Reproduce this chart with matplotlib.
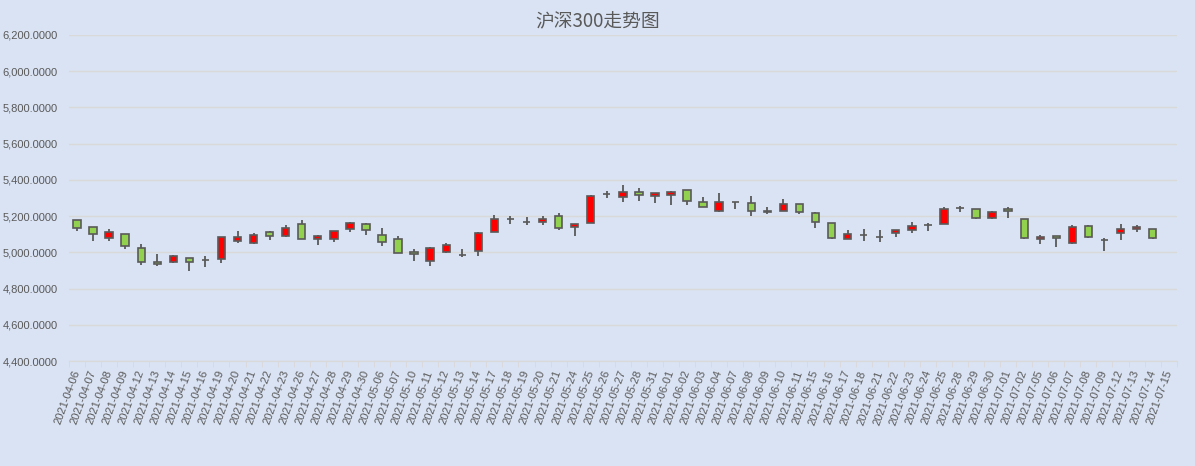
import numpy as np
import matplotlib.pyplot as plt
from matplotlib.ticker import FuncFormatter

plt.rcParams['font.family'] = ['Noto Sans CJK SC', 'DejaVu Sans']

# trading days shown on the category axis
dates = ['2021-04-06', '2021-04-07', '2021-04-08', '2021-04-09', '2021-04-12',
         '2021-04-13', '2021-04-14', '2021-04-15', '2021-04-16', '2021-04-19',
         '2021-04-20', '2021-04-21', '2021-04-22', '2021-04-23', '2021-04-26',
         '2021-04-27', '2021-04-28', '2021-04-29', '2021-04-30', '2021-05-06',
         '2021-05-07', '2021-05-10', '2021-05-11', '2021-05-12', '2021-05-13',
         '2021-05-14', '2021-05-17', '2021-05-18', '2021-05-19', '2021-05-20',
         '2021-05-21', '2021-05-24', '2021-05-25', '2021-05-26', '2021-05-27',
         '2021-05-28', '2021-05-31', '2021-06-01', '2021-06-02', '2021-06-03',
         '2021-06-04', '2021-06-07', '2021-06-08', '2021-06-09', '2021-06-10',
         '2021-06-11', '2021-06-15', '2021-06-16', '2021-06-17', '2021-06-18',
         '2021-06-21', '2021-06-22', '2021-06-23', '2021-06-24', '2021-06-25',
         '2021-06-28', '2021-06-29', '2021-06-30', '2021-07-01', '2021-07-02',
         '2021-07-05', '2021-07-06', '2021-07-07', '2021-07-08', '2021-07-09',
         '2021-07-12', '2021-07-13', '2021-07-14', '2021-07-15']

# OHLC (last day has no candle)
open_ = [5176, 5138, 5078, 5100, 5023, 4946, 4946, 4968, 4959, 4963,
         5061, 5050, 5110, 5089, 5154, 5072, 5072, 5127, 5154, 5094,
         5072, 5001, 4952, 5001, 4988, 5006, 5110, 5185, 5169, 5165,
         5198, 5138, 5160, 5322, 5308, 5335, 5313, 5319, 5346, 5280,
         5226, 5278, 5275, 5220, 5231, 5269, 5215, 5160, 5072, 5096,
         5087, 5105, 5121, 5152, 5154, 5246, 5242, 5187, 5237, 5182,
         5072, 5089, 5050, 5143, 5067, 5105, 5127, 5127, np.nan]
close = [5136, 5100, 5110, 5034, 4946, 4935, 4979, 4946, 4959, 5083,
         5083, 5094, 5089, 5132, 5072, 5089, 5116, 5160, 5121, 5056,
         4995, 4990, 5023, 5039, 4988, 5105, 5182, 5185, 5169, 5182,
         5132, 5154, 5313, 5322, 5335, 5319, 5330, 5335, 5286, 5253,
         5280, 5278, 5231, 5231, 5269, 5220, 5165, 5078, 5100, 5096,
         5087, 5121, 5143, 5152, 5237, 5246, 5187, 5220, 5226, 5078,
         5083, 5078, 5138, 5083, 5067, 5127, 5138, 5078, np.nan]
high = [5178, 5138, 5127, 5100, 5045, 4990, 4984, 4968, 4979, 5083,
        5116, 5105, 5116, 5149, 5176, 5094, 5116, 5165, 5162, 5132,
        5089, 5017, 5028, 5050, 5017, 5110, 5204, 5198, 5193, 5198,
        5215, 5154, 5318, 5341, 5374, 5357, 5330, 5341, 5346, 5308,
        5330, 5280, 5313, 5248, 5297, 5269, 5220, 5160, 5121, 5127,
        5121, 5121, 5165, 5160, 5248, 5258, 5242, 5226, 5248, 5182,
        5094, 5089, 5149, 5149, 5078, 5154, 5149, 5127, np.nan]
low = [5120, 5061, 5061, 5017, 4930, 4924, 4941, 4897, 4919, 4941,
       5054, 5045, 5067, 5083, 5072, 5039, 5056, 5110, 5094, 5034,
       4995, 4952, 4924, 4995, 4974, 4979, 5110, 5154, 5149, 5149,
       5121, 5089, 5160, 5302, 5280, 5286, 5275, 5264, 5264, 5253,
       5220, 5237, 5198, 5209, 5226, 5209, 5132, 5072, 5072, 5061,
       5056, 5083, 5105, 5116, 5154, 5220, 5182, 5182, 5187, 5072,
       5045, 5028, 5045, 5078, 5006, 5067, 5110, 5072, np.nan]

open_ = np.array(open_, dtype=float)
close = np.array(close, dtype=float)
high = np.array(high, dtype=float)
low = np.array(low, dtype=float)
x = np.arange(len(dates))

bg = '#dae3f3'
edge = '#595959'
up_color = '#ff0000'
down_color = '#92d050'
tick_font = ['Liberation Sans', 'DejaVu Sans']

fig = plt.figure(figsize=(11.95, 4.66), dpi=100, facecolor=bg)
ax = fig.add_axes([0.0577, 0.2253, 0.927, 0.6996])
ax.set_facecolor(bg)

# wicks
ax.vlines(x, low, high, color=edge, linewidth=1.3, zorder=2)

# bodies
bottoms = np.fmin(open_, close)
heights = np.abs(close - open_)
colors = [up_color if c > o else down_color for o, c in zip(open_, close)]
ax.bar(x, heights, bottom=bottoms, width=0.46, color=colors,
       edgecolor=edge, linewidth=1.2, zorder=3)

ax.set_xlim(-0.5, len(dates) - 0.5)
ax.set_ylim(4400, 6200)
ax.set_yticks(np.arange(4400, 6201, 200))
ax.yaxis.set_major_formatter(FuncFormatter(lambda v, p: f'{v:,.4f}'))
ax.grid(axis='y', color='#d9d9d9', linewidth=1, zorder=0)
ax.set_axisbelow(True)

ax.set_xticks(x)
ax.set_xticklabels(dates, rotation=70, ha='right', va='center',
                   rotation_mode='anchor')
ax.set_xticks(np.arange(-0.5, len(dates), 1), minor=True)
ax.tick_params(axis='x', which='major', length=0, pad=7,
               labelsize=8, labelcolor='#595959')
ax.tick_params(axis='x', which='minor', length=4, color='#d9d9d9')
ax.tick_params(axis='y', length=0, pad=8, labelsize=8, labelcolor='#595959')
for lab in ax.get_xticklabels() + ax.get_yticklabels():
    lab.set_family(tick_font)

for side in ['top', 'right', 'left']:
    ax.spines[side].set_visible(False)
ax.spines['bottom'].set_color('#d9d9d9')

fig.suptitle('沪深300走势图', x=0.5, y=0.975, va='top', fontsize=13.5, color='#595959')

fig.savefig('out.png', dpi=100, facecolor=bg)
